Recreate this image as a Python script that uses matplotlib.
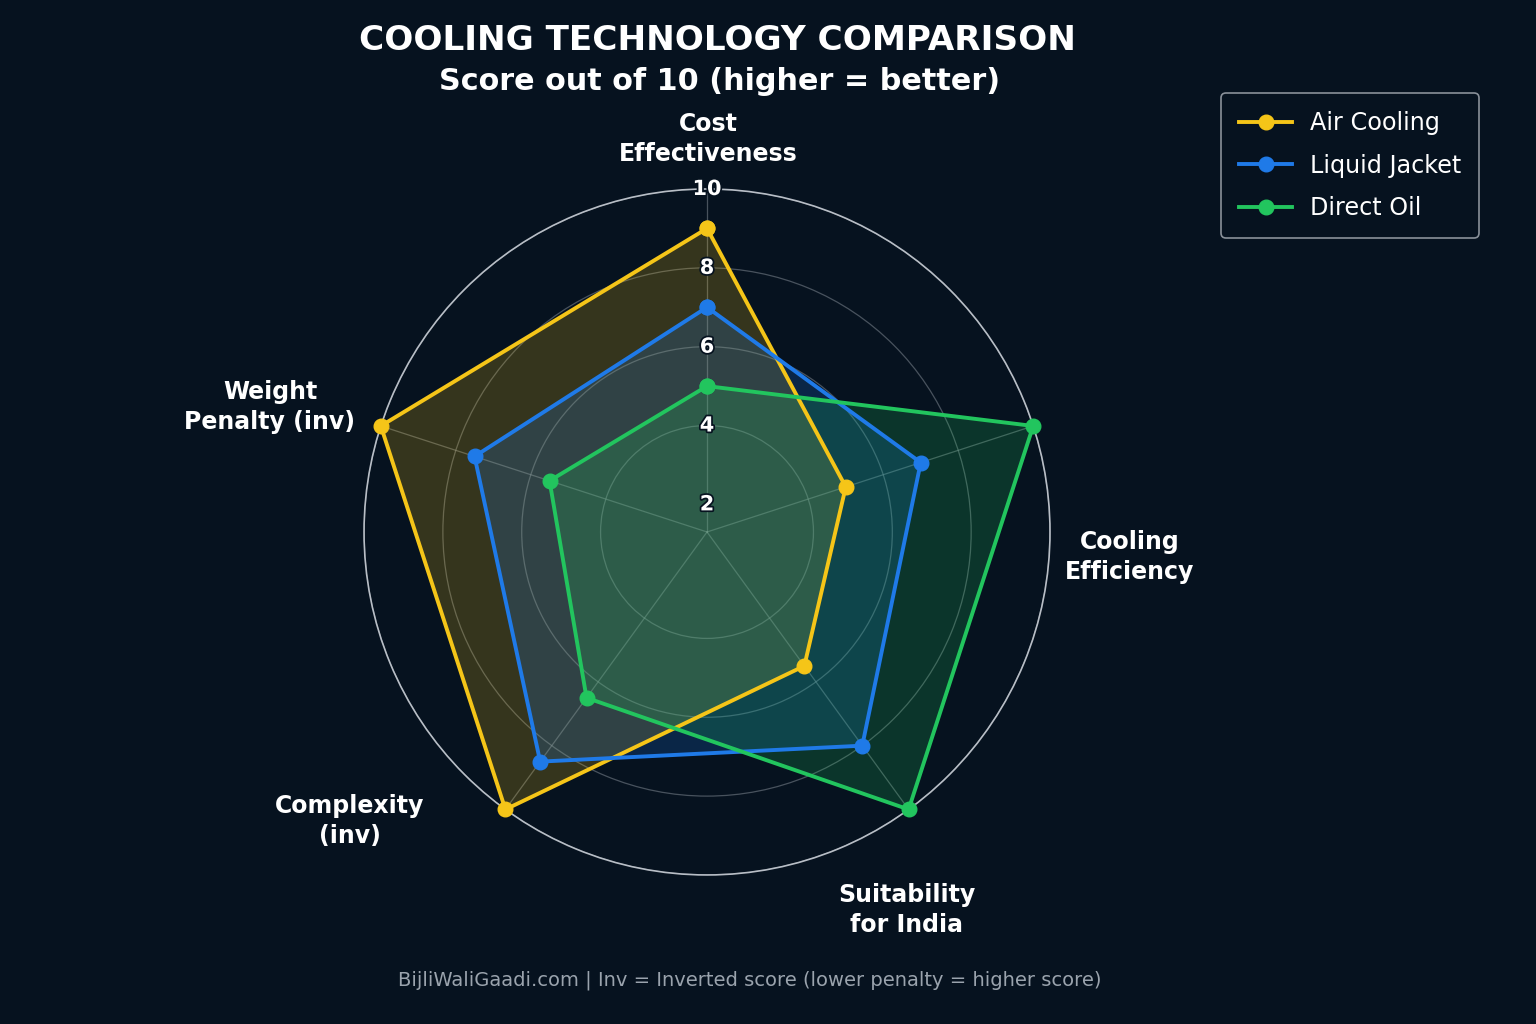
import numpy as np
import matplotlib
matplotlib.use("Agg")
import matplotlib.pyplot as plt
from matplotlib import patheffects as pe

categories = ["Cost\nEffectiveness", "Cooling\nEfficiency", "Suitability\nfor India",
              "Complexity\n(inv)", "Weight\nPenalty (inv)"]
series_names = ["Air Cooling", "Liquid Jacket", "Direct Oil"]
air_cooling = [9, 5, 5.5, 10, 10]
liquid_jacket = [7, 7, 8, 8.5, 7.5]
direct_oil = [5, 10, 10, 6.5, 5.5]
ring_ticks = [2, 4, 6, 8, 10]

BG = "#06121f"
colors = ["#f5c518", "#1f7ae8", "#22c55e"]

fig = plt.figure(figsize=(15.36, 10.24), dpi=100, facecolor=BG)
ax = fig.add_axes([0.237, 0.1455, 0.4466, 0.670], projection="polar")
ax.set_facecolor(BG)
ax.set_theta_offset(np.pi / 2)
ax.set_theta_direction(-1)

n = len(categories)
angles = np.linspace(0, 2 * np.pi, n, endpoint=False)
ang_closed = np.concatenate([angles, angles[:1]])

for name, vals, c in zip(series_names, [air_cooling, liquid_jacket, direct_oil], colors):
    v = np.array(vals + vals[:1], dtype=float)
    ax.fill(ang_closed, v, color=c, alpha=0.2, zorder=2)
for name, vals, c in zip(series_names, [air_cooling, liquid_jacket, direct_oil], colors):
    v = np.array(vals + vals[:1], dtype=float)
    ax.plot(ang_closed, v, color=c, lw=2.8, marker="o", markersize=10.5,
            label=name, zorder=4, clip_on=False)

ax.set_ylim(1.3, 10)
ax.set_yticks(ring_ticks)
ax.set_yticklabels([])
ax.set_xticks(angles)
ax.set_xticklabels([])
ax.grid(True, color="#8a929c", alpha=0.5, lw=0.9)
gl = ax.yaxis.get_gridlines()
if gl:
    gl[0].set_visible(False)
ax.spines["polar"].set_color("#b8bec6")
ax.spines["polar"].set_linewidth(1.2)

for t in ring_ticks:
    ax.text(0, t, str(t), ha="center", va="center", color="white", fontsize=15,
            fontweight="semibold", zorder=5,
            path_effects=[pe.withStroke(linewidth=2.5, foreground=BG)])

# category labels
label_pos = [(708, 139), (1130, 557), (907, 910), (350, 821), (270, 407)]
for lab, (px, py) in zip(categories, label_pos):
    fig.text(px / 1536, 1 - py / 1024, lab, ha="center", va="center", color="white",
             fontsize=17, fontweight="bold", linespacing=1.3)

fig.text(717 / 1536, 1 - 40 / 1024, "COOLING TECHNOLOGY COMPARISON", ha="center", va="center",
         color="white", fontsize=24.7, fontweight="bold")
fig.text(720 / 1536, 1 - 81 / 1024, "Score out of 10 (higher = better)", ha="center", va="center",
         color="white", fontsize=21.8, fontweight="bold")
fig.text(750 / 1536, 1 - 980 / 1024,
         "BijliWaliGaadi.com | Inv = Inverted score (lower penalty = higher score)",
         ha="center", va="center", color="#9aa3ad", fontsize=14)

leg = fig.legend(loc="upper right", bbox_to_anchor=(1479 / 1536, 1 - 93 / 1024),
                 borderaxespad=0, fontsize=17.2, frameon=True, facecolor=BG,
                 edgecolor="#aab0b8", labelcolor="white", handlelength=2.2,
                 borderpad=0.75, labelspacing=0.78, handletextpad=0.75)
leg.get_frame().set_linewidth(1.2)

fig.savefig("out.png", dpi=100, facecolor=BG)
